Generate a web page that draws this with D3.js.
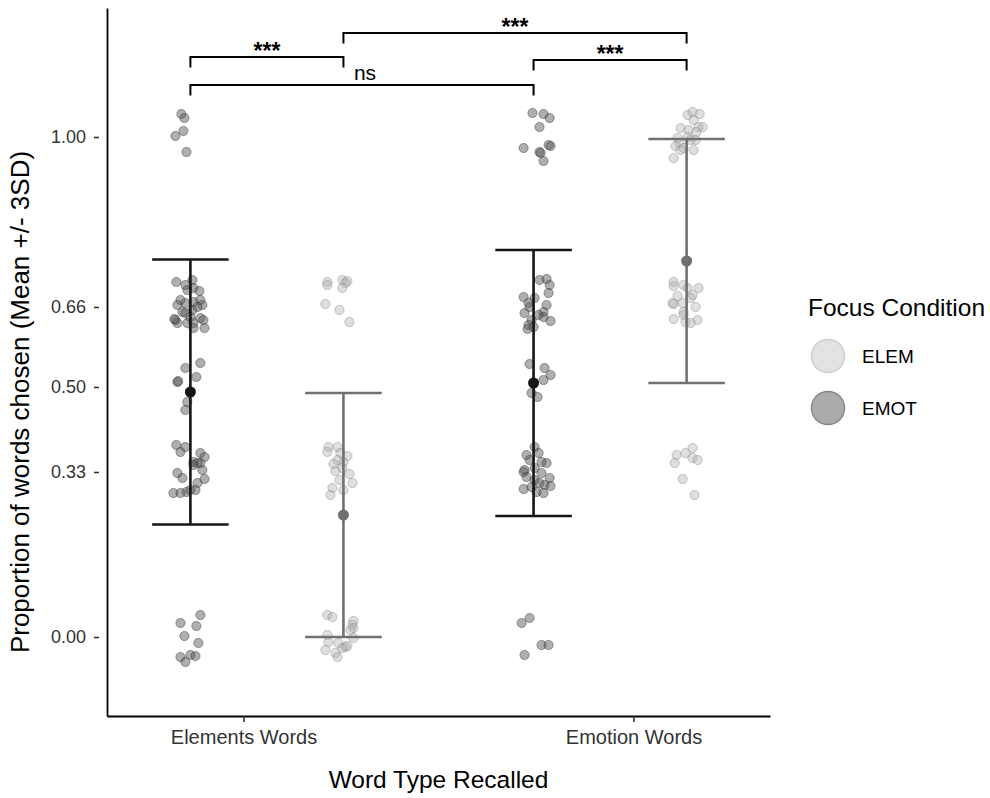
<!DOCTYPE html>
<html>
<head>
<meta charset="utf-8">
<script src="https://cdn.jsdelivr.net/npm/d3@7"></script>
<style>
  body { margin: 0; background: #fff; }
  svg { font-family: "Liberation Sans", Arial, Helvetica, sans-serif; }
</style>
</head>
<body>
<svg id="chart"></svg>
<script>
// categories on the x axis, focus conditions (dodge order) and legend
var categories = ["Elements Words", "Emotion Words"];
var dodgeOrder = ["EMOT", "ELEM"];
var legendOrder = ["ELEM", "EMOT"];
var yTicks = [0, 0.33, 0.5, 0.66, 1];

// jittered raw points: [proportion, horizontal jitter (fraction of dodge step)]
var emotElements = [
    [1.046, -0.059], [1.038, -0.039], [1.012, -0.046], [1.002, -0.098], [0.970, -0.026],
    [0.710, -0.092], [0.704, -0.033], [0.714, 0.013], [0.694, -0.020], [0.698, 0.020],
    [0.692, 0.059], [0.674, -0.065], [0.664, -0.085], [0.668, -0.033], [0.670, 0.020],
    [0.664, 0.078], [0.674, 0.065], [0.650, -0.052], [0.654, 0.013], [0.634, -0.098],
    [0.628, -0.085], [0.628, -0.020], [0.628, 0.020], [0.638, 0.065], [0.634, 0.085],
    [0.618, 0.092], [0.618, 0.020], [0.648, -0.033], [0.660, 0.046], [0.636, -0.105],
    [0.640, 0.000],
    [0.548, 0.065], [0.538, -0.033], [0.520, 0.039], [0.510, -0.085], [0.512, -0.080],
    [0.470, -0.020], [0.454, -0.033],
    [0.384, -0.092], [0.370, -0.065], [0.380, -0.033], [0.368, 0.065], [0.360, 0.092],
    [0.350, 0.020], [0.348, 0.065], [0.334, 0.078], [0.328, -0.085], [0.318, -0.052],
    [0.316, 0.092], [0.308, 0.046], [0.294, 0.033], [0.290, -0.026], [0.288, -0.065],
    [0.288, -0.111], [0.294, 0.000], [0.348, 0.046], [0.344, 0.020],
    [0.044, 0.065], [0.028, -0.065], [0.022, 0.039], [0.002, -0.039], [-0.012, 0.052],
    [-0.040, -0.065], [-0.036, 0.000], [-0.038, 0.033], [-0.050, -0.033]
];
var elemElements = [
    [0.710, -0.105], [0.704, -0.105], [0.714, -0.007], [0.712, 0.026], [0.708, 0.013],
    [0.698, -0.007], [0.666, -0.118], [0.654, -0.026], [0.630, 0.039],
    [0.380, -0.098], [0.380, -0.039], [0.370, -0.105], [0.368, -0.020], [0.362, 0.026],
    [0.354, -0.039], [0.350, 0.000], [0.346, -0.065], [0.332, -0.052], [0.338, -0.007],
    [0.326, 0.039], [0.314, -0.026], [0.308, 0.059], [0.298, -0.072], [0.284, -0.085],
    [0.294, 0.000],
    [0.044, -0.105], [0.040, -0.072], [0.032, 0.065], [0.024, 0.059], [0.018, 0.065],
    [0.014, 0.046], [0.004, -0.105], [-0.002, 0.065], [-0.010, -0.098], [-0.012, -0.033],
    [-0.020, 0.013], [-0.022, -0.007], [-0.018, 0.026], [-0.026, -0.118], [-0.032, -0.052],
    [-0.040, -0.039]
];
var emotEmotion = [
    [1.048, -0.007], [1.046, 0.065], [1.038, 0.105], [1.020, 0.039], [0.978, -0.065],
    [0.984, 0.098], [0.982, 0.111], [0.970, 0.039], [0.968, 0.046], [0.952, 0.065],
    [0.714, 0.039], [0.716, 0.085], [0.704, 0.105], [0.688, 0.098], [0.680, -0.065],
    [0.678, 0.007], [0.668, -0.033], [0.660, -0.026], [0.664, 0.085], [0.650, 0.065],
    [0.648, -0.059], [0.644, 0.033], [0.640, 0.065], [0.634, -0.013], [0.632, 0.111],
    [0.624, -0.033], [0.616, -0.039], [0.620, 0.000],
    [0.546, -0.026], [0.538, 0.072], [0.524, 0.111], [0.514, 0.065], [0.488, -0.013],
    [0.480, 0.026],
    [0.380, 0.007], [0.364, -0.046], [0.368, 0.033], [0.354, -0.026], [0.350, 0.052],
    [0.348, 0.085], [0.334, -0.059], [0.338, 0.007], [0.330, -0.065], [0.328, 0.052],
    [0.320, -0.046], [0.318, 0.105], [0.314, 0.007], [0.308, 0.039], [0.304, 0.072],
    [0.302, 0.111], [0.296, -0.065], [0.290, 0.020], [0.288, 0.065], [0.300, -0.013],
    [0.038, -0.026], [0.028, -0.078], [-0.016, 0.052], [-0.016, 0.098], [-0.036, -0.059]
];
var elemEmotion = [
    [1.044, 0.007], [1.050, 0.039], [1.046, 0.085], [1.034, 0.046], [1.018, -0.039],
    [1.020, 0.078], [1.014, 0.013], [1.010, 0.065], [1.020, 0.105], [0.998, -0.059],
    [1.000, 0.007], [0.994, 0.059], [0.988, -0.046], [0.982, -0.072], [0.978, -0.020],
    [0.974, 0.046], [0.974, -0.039], [0.958, -0.085], [0.994, 0.026],
    [0.710, -0.085], [0.702, -0.085], [0.704, -0.020], [0.698, 0.007], [0.698, 0.078],
    [0.682, -0.059], [0.684, 0.039], [0.666, -0.085], [0.668, -0.092], [0.668, -0.026],
    [0.678, 0.026], [0.650, -0.020], [0.660, 0.059], [0.644, -0.020], [0.636, -0.085],
    [0.630, -0.007], [0.628, 0.026], [0.634, 0.072],
    [0.378, 0.039], [0.364, -0.065], [0.368, -0.007], [0.358, 0.039], [0.354, 0.072],
    [0.348, -0.078], [0.316, -0.026], [0.284, 0.052]
];

// group summaries: mean and half-length of the error bar (3 SD)
var groupCategory = ["Elements Words", "Elements Words", "Emotion Words", "Emotion Words"];
var groupCondition = ["EMOT", "ELEM", "EMOT", "ELEM"];
var groupMeans = [0.490, 0.244, 0.508, 0.752];
var groupErr = [0.265, 0.244, 0.266, 0.244];
var groupPoints = [emotElements, elemElements, emotEmotion, elemEmotion];

// significance brackets: from group index, to group index, height, label
var sigFrom = [0, 0, 1, 2];
var sigTo = [1, 2, 3, 3];
var sigHeight = [1.160, 1.104, 1.208, 1.154];
var sigLabel = ["***", "ns", "***", "***"];

var W = 990, H = 798;
var plot = { left: 107, right: 770, top: 8, bottom: 716 };

var svg = d3.select("#chart").attr("width", W).attr("height", H);

var y = d3.scaleLinear().domain([-0.158, 1.258]).range([plot.bottom, plot.top]);

// axis ticks
var xAxisScale = d3.scalePoint()
    .domain(categories)
    .range([plot.left, plot.right])
    .padding(0.35);

// dodged groups
var xCat = d3.scaleBand()
    .domain(categories)
    .range([plot.left, plot.right])
    .paddingInner(0.2)
    .paddingOuter(0.066);
var xCond = d3.scalePoint()
    .domain(dodgeOrder)
    .range([0, xCat.bandwidth()])
    .padding(0.397);

function gx(i) { return xCat(groupCategory[i]) + xCond(groupCondition[i]); }

var pointFill = { EMOT: "#555", ELEM: "#aaa" };
var pointStroke = { EMOT: "#333", ELEM: "#888" };
var barColor = { EMOT: "#151515", ELEM: "#707070" };

// jittered points
groupPoints.forEach(function (pts, i) {
    var cond = groupCondition[i];
    svg.append("g")
        .selectAll("circle")
        .data(pts)
        .enter().append("circle")
        .attr("cx", d => gx(i) + d[1] * xCond.step())
        .attr("cy", d => y(d[0]))
        .attr("r", 4.6)
        .attr("fill", pointFill[cond])
        .attr("fill-opacity", cond === "EMOT" ? 0.47 : 0.38)
        .attr("stroke", pointStroke[cond])
        .attr("stroke-opacity", 0.45)
        .attr("stroke-width", 1);
});

// error bars + means
var capHalf = xCond.step() * 0.25;
groupMeans.forEach(function (m, i) {
    var col = barColor[groupCondition[i]];
    var g = svg.append("g").attr("stroke", col).attr("stroke-width", 2.6);
    g.append("line")
        .attr("x1", gx(i)).attr("x2", gx(i))
        .attr("y1", y(m - groupErr[i])).attr("y2", y(m + groupErr[i]));
    [m - groupErr[i], m + groupErr[i]].forEach(function (v) {
        g.append("line")
            .attr("x1", gx(i) - capHalf).attr("x2", gx(i) + capHalf)
            .attr("y1", y(v)).attr("y2", y(v));
    });
    svg.append("circle")
        .attr("cx", gx(i)).attr("cy", y(m))
        .attr("r", 5.5)
        .attr("fill", col);
});

// significance brackets
var drop = 0.021;
sigLabel.forEach(function (lab, k) {
    var x1 = gx(sigFrom[k]), x2 = gx(sigTo[k]), h = sigHeight[k];
    svg.append("path")
        .attr("d", "M" + x1 + "," + y(h - drop) + "V" + y(h) + "H" + x2 + "V" + y(h - drop))
        .attr("fill", "none")
        .attr("stroke", "#000")
        .attr("stroke-width", 2);
    svg.append("text")
        .attr("x", (x1 + x2) / 2 + (lab === "ns" ? 3 : 0))
        .attr("y", y(h) + (lab === "ns" ? -5 : 2))
        .attr("text-anchor", "middle")
        .style("font-size", lab === "ns" ? "21px" : "23px")
        .style("font-weight", lab === "ns" ? "normal" : "bold")
        .attr("fill", "#000")
        .text(lab);
});

// Y axis
var yAxis = svg.append("g")
    .attr("transform", "translate(" + plot.left + ",0)")
    .call(d3.axisLeft(y).tickValues(yTicks).tickFormat(d3.format(".2f")).tickSizeOuter(0).tickSizeInner(5));
yAxis.select(".domain").attr("stroke", "#000").attr("stroke-width", 1.8);
yAxis.selectAll(".tick line").attr("x1", -13).attr("x2", -8).attr("stroke", "#333").attr("stroke-width", 1.6);
yAxis.selectAll(".tick text")
    .attr("x", -21)
    .style("font-size", "18px")
    .style("font-family", "'Liberation Sans', Arial, sans-serif")
    .attr("fill", "#333");

// X axis
var xAxis = svg.append("g")
    .attr("transform", "translate(0," + plot.bottom + ")")
    .call(d3.axisBottom(xAxisScale).tickSizeOuter(0).tickSizeInner(6).tickPadding(8));
xAxis.select(".domain").attr("stroke", "#000").attr("stroke-width", 1.8);
xAxis.selectAll(".tick line").attr("stroke", "#333").attr("stroke-width", 1.6);
xAxis.selectAll(".tick text")
    .style("font-size", "20px")
    .style("font-family", "'Liberation Sans', Arial, sans-serif")
    .attr("fill", "#333");

// axis titles
svg.append("text")
    .attr("x", (xAxisScale(categories[0]) + xAxisScale(categories[1])) / 2)
    .attr("y", 788)
    .attr("text-anchor", "middle")
    .style("font-size", "24.5px")
    .text("Word Type Recalled");

svg.append("text")
    .attr("transform", "rotate(-90)")
    .attr("x", -402)
    .attr("y", 29)
    .attr("text-anchor", "middle")
    .style("font-size", "26px")
    .text("Proportion of words chosen (Mean +/- 3SD)");

// legend
var legend = svg.append("g").attr("transform", "translate(808,0)");
legend.append("text")
    .attr("x", 0).attr("y", 316)
    .style("font-size", "24.5px")
    .text("Focus Condition");

var legendFill = { ELEM: "#e3e3e3", EMOT: "#ababab" };
var legendStroke = { ELEM: "#cdcdcd", EMOT: "#888" };
var item = legend.selectAll(".legend-item")
    .data(legendOrder)
    .enter().append("g")
    .attr("class", "legend-item")
    .attr("transform", (d, i) => "translate(0," + (356 + i * 52) + ")");
item.append("circle")
    .attr("cx", 20).attr("cy", 0).attr("r", 16.5)
    .attr("fill", d => legendFill[d])
    .attr("stroke", d => legendStroke[d])
    .attr("stroke-width", 1.5);
item.append("text")
    .attr("x", 54).attr("y", 0).attr("dy", "0.36em")
    .style("font-size", "19px")
    .text(d => d);
</script>
</body>
</html>
